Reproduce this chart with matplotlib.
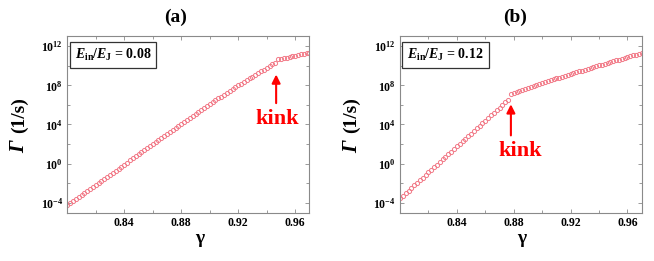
import numpy as np
import matplotlib
matplotlib.use("Agg")
import matplotlib.pyplot as plt
from matplotlib.ticker import FixedLocator, FixedFormatter, NullFormatter

plt.rcParams['font.family'] = ['Liberation Serif', 'DejaVu Serif']
plt.rcParams['font.weight'] = 'bold'
plt.rcParams['mathtext.fontset'] = 'custom'
plt.rcParams['mathtext.rm'] = 'Liberation Serif:bold'
plt.rcParams['mathtext.bf'] = 'Liberation Serif:bold'
plt.rcParams['mathtext.it'] = 'Liberation Serif:italic:bold'

# ---- data ----
gamma_a = np.round(np.arange(0.800, 0.9701, 0.002), 3)
log_rate_a = [
    -4.25, -4.04, -3.83, -3.62, -3.41, -3.20, -2.99, -2.78, -2.57, -2.36,
    -2.15, -1.94, -1.74, -1.53, -1.33, -1.12, -0.92, -0.71, -0.51, -0.30,
    -0.10, 0.11, 0.32, 0.53, 0.74, 0.95, 1.16, 1.37, 1.58, 1.79,
    2.00, 2.21, 2.42, 2.63, 2.84, 3.05, 3.26, 3.47, 3.68, 3.89,
    4.10, 4.30, 4.50, 4.70, 4.90, 5.10, 5.30, 5.50, 5.70, 5.90,
    6.10, 6.29, 6.48, 6.67, 6.86, 7.05, 7.24, 7.43, 7.62, 7.81,
    8.00, 8.18, 8.36, 8.54, 8.72, 8.90, 9.08, 9.26, 9.44, 9.62,
    9.80, 9.97, 10.14, 10.30,
    10.65, 10.71, 10.78, 10.84, 10.90, 10.97, 11.03, 11.09, 11.16, 11.22,
    11.28, 11.35,
]
gamma_b = np.round(np.arange(0.800, 0.9701, 0.002), 3)
log_rate_b = [
    -3.55, -3.29, -3.02, -2.76, -2.49, -2.23, -1.96, -1.70, -1.43, -1.17,
    -0.90, -0.64, -0.37, -0.11, 0.16, 0.42, 0.69, 0.95, 1.22, 1.48,
    1.75, 2.01, 2.28, 2.54, 2.81, 3.07, 3.34, 3.60, 3.87, 4.13,
    4.40, 4.66, 4.93, 5.19, 5.46, 5.72, 5.99, 6.25, 6.52,
    7.15, 7.25, 7.35, 7.45, 7.55, 7.65, 7.75, 7.85, 7.95, 8.05, 8.15,
    8.24, 8.34, 8.43, 8.52, 8.62, 8.71, 8.80, 8.90, 8.99, 9.08, 9.18,
    9.27, 9.35, 9.44, 9.52, 9.61, 9.70, 9.78, 9.87, 9.95, 10.04,
    10.12, 10.21, 10.30, 10.38, 10.47, 10.55, 10.64, 10.72, 10.81, 10.90,
    10.98, 11.07, 11.15, 11.24, 11.32,
]
ratios = ["0.08", "0.12"]
panel_titles = ["(a)", "(b)"]
x_major = [0.84, 0.88, 0.92, 0.96]
x_major_labels = ["0.84", "0.88", "0.92", "0.96"]
x_minor = [0.82, 0.86, 0.90, 0.94]
y_major = [1e-4, 1e0, 1e4, 1e8, 1e12]
y_major_labels = [r"$\mathbf{10^{-4}}$", r"$\mathbf{10^{0}}$", r"$\mathbf{10^{4}}$",
                  r"$\mathbf{10^{8}}$", r"$\mathbf{10^{12}}$"]
y_minor = [1e-2, 1e2, 1e6, 1e10]
kink_a = dict(head=(0.9466, 10**9.4), tail=(0.9466, 10**5.9), text=(0.9476, 10**4.6))
kink_b = dict(head=(0.8780, 10**6.35), tail=(0.8780, 10**2.6), text=(0.8843, 10**1.3))

fig = plt.figure(figsize=(6.54, 2.61), dpi=100)
axes_pos = [[0.1029, 0.184, 0.3703, 0.678], [0.6116, 0.184, 0.3696, 0.678]]
datasets = [(gamma_a, log_rate_a, kink_a), (gamma_b, log_rate_b, kink_b)]
title_x = [0.269, 0.787]
xlabel_x = [0.306, 0.798]
ylabel_x = [0.030, 0.538]
marker_color = '#f27a88'
spine_color = '#8a8a8a'

for i, (g, lr, kk) in enumerate(datasets):
    ax = fig.add_axes(axes_pos[i])
    ax.plot(g, 10 ** np.array(lr), linestyle='none', marker='o', markersize=3.0,
            markerfacecolor='none', markeredgecolor=marker_color, markeredgewidth=0.7)
    ax.set_yscale('log')
    ax.set_xlim(0.8, 0.97)
    ax.set_ylim(10 ** -5.05, 10 ** 13.05)
    ax.xaxis.set_major_locator(FixedLocator(x_major))
    ax.xaxis.set_major_formatter(FixedFormatter(x_major_labels))
    ax.xaxis.set_minor_locator(FixedLocator(x_minor))
    ax.yaxis.set_major_locator(FixedLocator(y_major))
    ax.yaxis.set_major_formatter(FixedFormatter(y_major_labels))
    ax.yaxis.set_minor_locator(FixedLocator(y_minor))
    ax.yaxis.set_minor_formatter(NullFormatter())
    ax.tick_params(which='both', direction='in', top=True, right=True,
                   color=spine_color, width=0.6, labelsize=8.5, pad=3)
    ax.tick_params(which='major', length=3)
    ax.tick_params(which='minor', length=2)
    for lab in ax.get_xticklabels() + ax.get_yticklabels():
        lab.set_fontweight('bold')
    for sp in ax.spines.values():
        sp.set_color(spine_color)
        sp.set_linewidth(0.8)
    ax.text(0.03, 0.94, r"$\mathit{E}_{\mathbf{in}}/\mathit{E}_{\mathbf{J}}$" + " = " + ratios[i],
            transform=ax.transAxes, fontsize=10, fontweight='bold', va='top', ha='left',
            bbox=dict(boxstyle='square,pad=0.35', facecolor='white', edgecolor='#333333', linewidth=0.9))
    ax.annotate("", xy=kk['head'], xytext=kk['tail'],
                arrowprops=dict(arrowstyle='-|>,head_width=0.25,head_length=0.5',
                                color='#ff0000', lw=1.5))
    ax.text(kk['text'][0], kk['text'][1], "kink", color='#ff0000', fontsize=16,
            fontweight='bold', ha='center', va='center')
    fig.text(title_x[i], 0.935, panel_titles[i], fontsize=14, fontweight='bold',
             ha='center', va='center')
    fig.text(xlabel_x[i], 0.085, "γ", fontsize=14, fontweight='bold', ha='center', va='center')
    fig.text(ylabel_x[i], 0.438, "Γ", fontsize=15, fontweight='bold', fontstyle='italic',
             ha='center', va='center', rotation=90)
    fig.text(ylabel_x[i], 0.56, "(1/s)", fontsize=14, fontweight='bold',
             ha='center', va='center', rotation=90)

fig.savefig("out.png", dpi=100)
